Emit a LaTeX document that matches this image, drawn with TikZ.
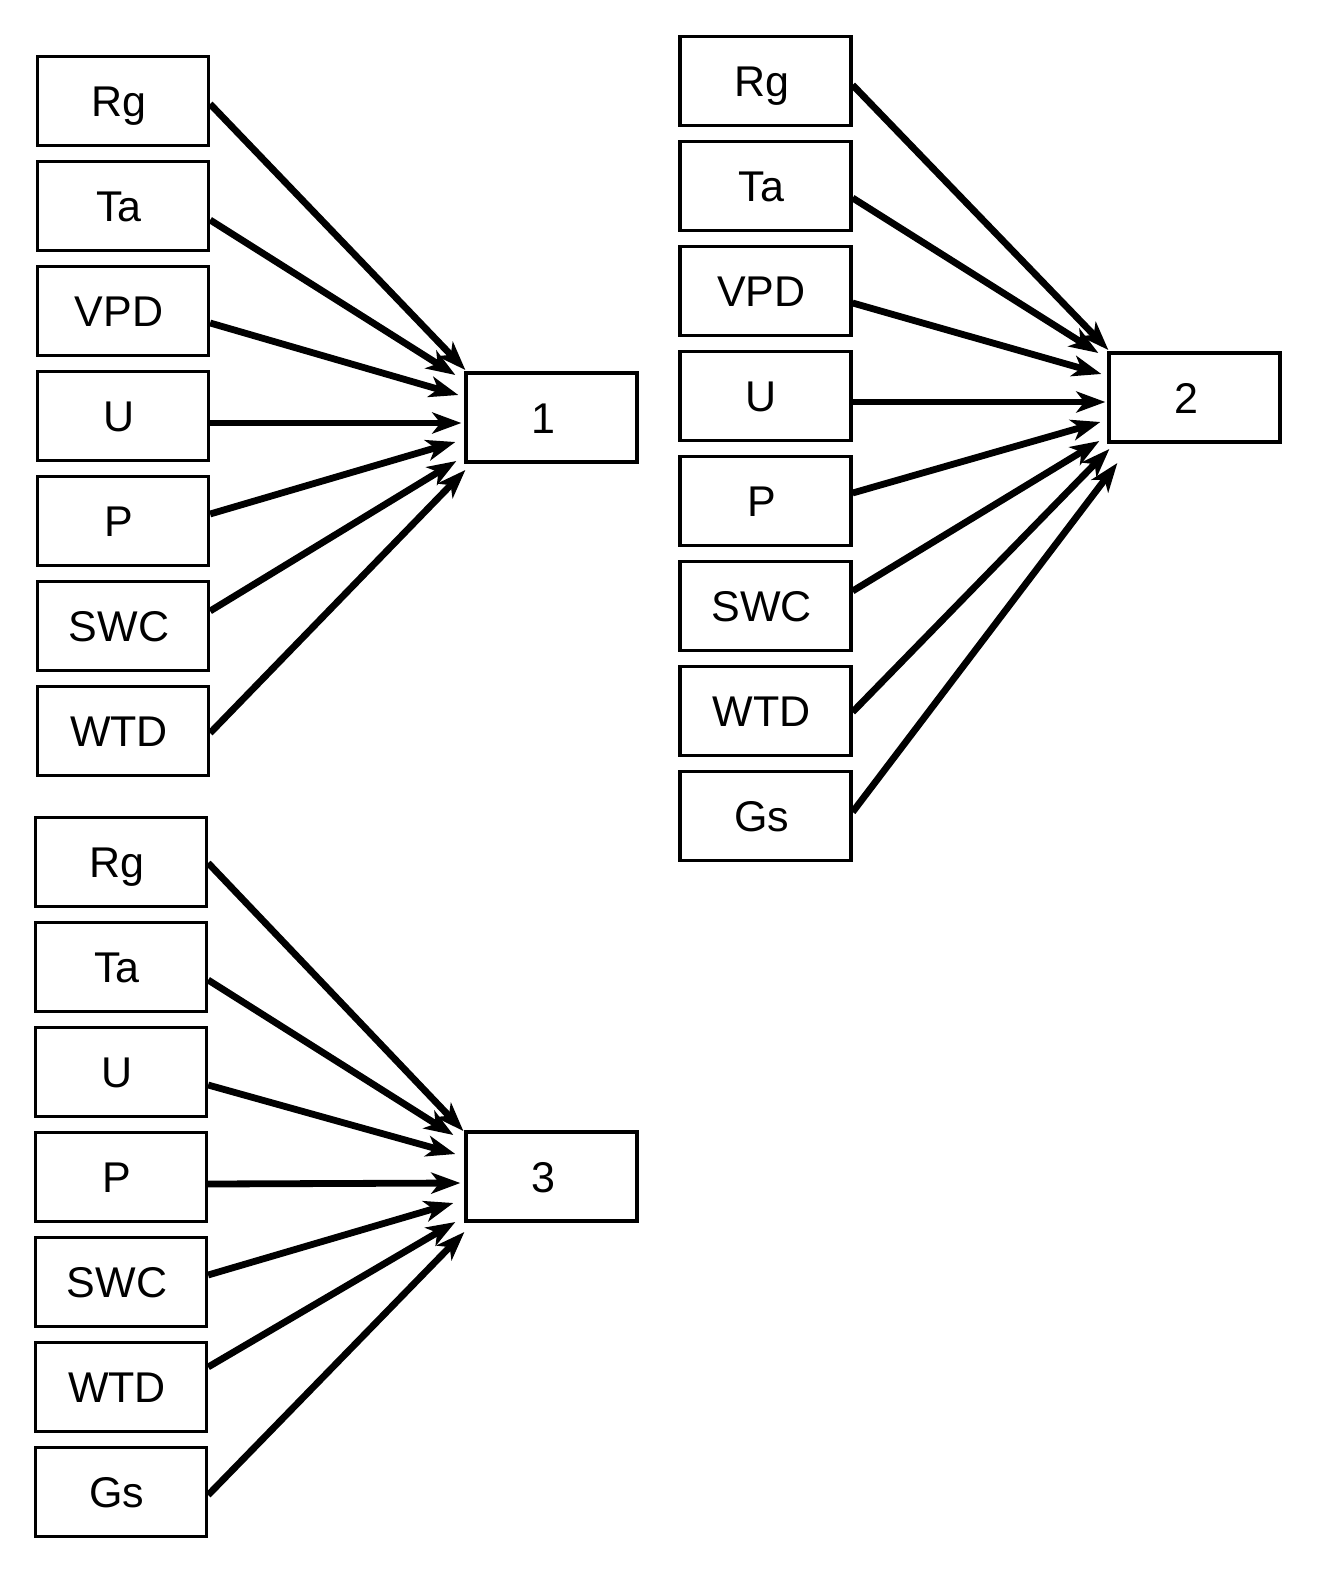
\documentclass[tikz,border=0pt]{standalone}
\usepackage{fontspec}
\setmainfont{Liberation Sans}
\usetikzlibrary{arrows.meta, calc}

\tikzset{
  box/.style={draw, line width=3.3pt, minimum width=171pt, minimum height=89pt,
    inner sep=0pt, text height=31pt, text depth=0pt,
    font=\fontsize{43pt}{51pt}\selectfont},
  invar/.style={box, execute at end node={\hspace*{8pt}}},
  model/.style={box, execute at end node={\hspace*{16pt}}},
  link/.style={line width=6.8pt, -{Stealth[length=29pt, width=21pt, inset=8pt]}},
}

\begin{document}
\begin{tikzpicture}[x=1pt, y=-1pt]
    \useasboundingbox (0,0) rectangle (1318,1573);

    % Model 1 and its inputs
    \node[invar] (rg1)  at (123,101) {Rg};
    \node[invar] (ta1)  at (123,206) {Ta};
    \node[invar] (vpd1) at (123,311) {VPD};
    \node[invar] (u1)   at (123,416) {U};
    \node[invar] (p1)   at (123,521) {P};
    \node[invar] (swc1) at (123,626) {SWC};
    \node[invar] (wtd1) at (123,731) {WTD};
    \node[model] (m1)   at (551.5,417.5) {1};

    \draw[link] ($(rg1.east)+(0,3)$)   -- ($(m1.west)+(1,-47.5)$);
    \draw[link] ($(ta1.east)+(0,14)$)  -- ($(m1.west)+(-9,-42.5)$);
    \draw[link] ($(vpd1.east)+(0,12)$) -- ($(m1.west)+(-6,-22.5)$);
    \draw[link] ($(u1.east)+(0,7)$)    -- ($(m1.west)+(-3,5.5)$);
    \draw[link] ($(p1.east)+(0,-7)$)   -- ($(m1.west)+(-9,24.5)$);
    \draw[link] ($(swc1.east)+(0,-15)$) -- ($(m1.west)+(-8,43.5)$);
    \draw[link] ($(wtd1.east)+(0,2)$)  -- ($(m1.west)+(1,52.5)$);

    % Model 2 and its inputs
    \node[invar] (rg2)  at (765.5,81) {Rg};
    \node[invar] (ta2)  at (765.5,186) {Ta};
    \node[invar] (vpd2) at (765.5,291) {VPD};
    \node[invar] (u2)   at (765.5,396) {U};
    \node[invar] (p2)   at (765.5,501) {P};
    \node[invar] (swc2) at (765.5,606) {SWC};
    \node[invar] (wtd2) at (765.5,711) {WTD};
    \node[invar] (gs2)  at (765.5,816) {Gs};
    \node[model] (m2)   at (1194.5,397.5) {2};

    \draw[link] ($(rg2.east)+(0,4)$)   -- ($(m2.west)+(1,-47.5)$);
    \draw[link] ($(ta2.east)+(0,12)$)  -- ($(m2.west)+(-9,-44.5)$);
    \draw[link] ($(vpd2.east)+(0,12)$) -- ($(m2.west)+(-6,-23.5)$);
    \draw[link] ($(u2.east)+(0,6)$)    -- ($(m2.west)+(-2,4.5)$);
    \draw[link] ($(p2.east)+(0,-8)$)   -- ($(m2.west)+(-7,24.5)$);
    \draw[link] ($(swc2.east)+(0,-15)$) -- ($(m2.west)+(-8,43.5)$);
    \draw[link] ($(wtd2.east)+(0,1)$)  -- ($(m2.west)+(2,51.5)$);
    \draw[link] ($(gs2.east)+(0,-4)$)  -- ($(m2.west)+(10,65.5)$);

    % Model 3 and its inputs
    \node[invar] (rg3)  at (121,862) {Rg};
    \node[invar] (ta3)  at (121,967) {Ta};
    \node[invar] (u3)   at (121,1072) {U};
    \node[invar] (p3)   at (121,1177) {P};
    \node[invar] (swc3) at (121,1282) {SWC};
    \node[invar] (wtd3) at (121,1387) {WTD};
    \node[invar] (gs3)  at (121,1492) {Gs};
    \node[model] (m3)   at (551.5,1176.5) {3};

    \draw[link] ($(rg3.east)+(0,1)$)   -- ($(m3.west)+(-1,-45.5)$);
    \draw[link] ($(ta3.east)+(0,13)$)  -- ($(m3.west)+(-11,-41.5)$);
    \draw[link] ($(u3.east)+(0,13)$)   -- ($(m3.west)+(-9,-22.5)$);
    \draw[link] ($(p3.east)+(0,7)$)    -- ($(m3.west)+(-4,6.5)$);
    \draw[link] ($(swc3.east)+(0,-7)$) -- ($(m3.west)+(-11,26.5)$);
    \draw[link] ($(wtd3.east)+(0,-20)$) -- ($(m3.west)+(-9,45.5)$);
    \draw[link] ($(gs3.east)+(0,3)$)   -- ($(m3.west)+(0,55.5)$);
\end{tikzpicture}
\end{document}
